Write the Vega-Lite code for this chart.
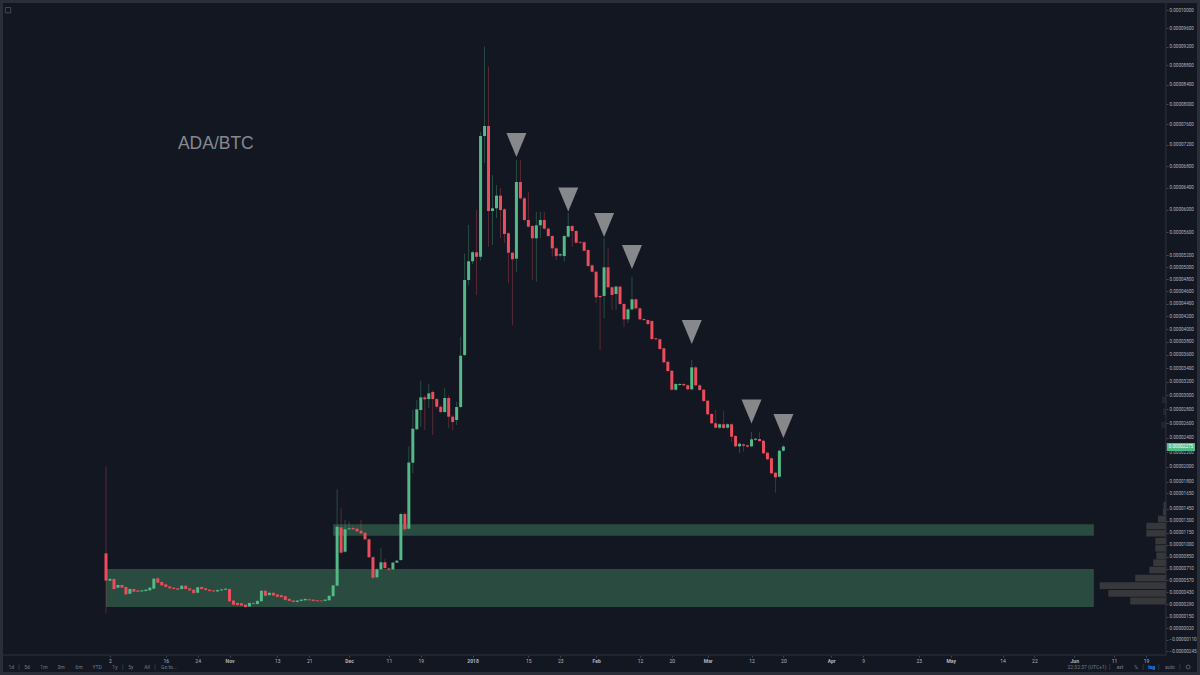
{
"$schema":"https://vega.github.io/schema/vega-lite/v6.json",
"width":1194,"height":669,"padding":3,"autosize":{"type":"none"},
"background":"#2a2e39",
"config":{"view":{"fill":"#131722","stroke":null},"font":"Roboto","axis":{"grid":false,"title":null,"domain":false,"labelOverlap":false}},
"datasets":{
"candles":[
{"date":"2017-10-01","open":893,"high":2002,"low":193,"close":566},
{"date":"2017-10-02","open":566,"high":600,"low":558,"close":585},
{"date":"2017-10-03","open":585,"high":595,"low":460,"close":467},
{"date":"2017-10-04","open":483,"high":522,"low":475,"close":514},
{"date":"2017-10-05","open":514,"high":522,"low":475,"close":483},
{"date":"2017-10-06","open":491,"high":498,"low":395,"close":404},
{"date":"2017-10-07","open":412,"high":474,"low":404,"close":467},
{"date":"2017-10-08","open":467,"high":474,"low":428,"close":435},
{"date":"2017-10-09","open":451,"high":458,"low":428,"close":435},
{"date":"2017-10-10","open":439,"high":458,"low":432,"close":451},
{"date":"2017-10-11","open":443,"high":466,"low":436,"close":459},
{"date":"2017-10-12","open":451,"high":490,"low":444,"close":483},
{"date":"2017-10-13","open":471,"high":596,"low":464,"close":589},
{"date":"2017-10-14","open":593,"high":610,"low":535,"close":542},
{"date":"2017-10-15","open":550,"high":557,"low":503,"close":510},
{"date":"2017-10-16","open":522,"high":529,"low":484,"close":491},
{"date":"2017-10-17","open":498,"high":505,"low":468,"close":475},
{"date":"2017-10-18","open":483,"high":490,"low":460,"close":467},
{"date":"2017-10-19","open":475,"high":482,"low":452,"close":459},
{"date":"2017-10-20","open":467,"high":513,"low":460,"close":506},
{"date":"2017-10-21","open":506,"high":513,"low":460,"close":467},
{"date":"2017-10-22","open":475,"high":482,"low":444,"close":451},
{"date":"2017-10-23","open":459,"high":466,"low":412,"close":419},
{"date":"2017-10-24","open":423,"high":494,"low":416,"close":487},
{"date":"2017-10-25","open":491,"high":498,"low":460,"close":467},
{"date":"2017-10-26","open":475,"high":482,"low":448,"close":455},
{"date":"2017-10-27","open":459,"high":466,"low":436,"close":443},
{"date":"2017-10-28","open":451,"high":458,"low":432,"close":439},
{"date":"2017-10-29","open":439,"high":462,"low":432,"close":455},
{"date":"2017-10-30","open":451,"high":470,"low":444,"close":463},
{"date":"2017-10-31","open":459,"high":478,"low":452,"close":471},
{"date":"2017-11-01","open":467,"high":474,"low":318,"close":325},
{"date":"2017-11-02","open":333,"high":340,"low":278,"close":285},
{"date":"2017-11-03","open":305,"high":312,"low":274,"close":281},
{"date":"2017-11-04","open":301,"high":308,"low":270,"close":277},
{"date":"2017-11-05","open":285,"high":292,"low":251,"close":258},
{"date":"2017-11-06","open":265,"high":312,"low":258,"close":305},
{"date":"2017-11-07","open":297,"high":312,"low":290,"close":305},
{"date":"2017-11-08","open":293,"high":336,"low":286,"close":329},
{"date":"2017-11-09","open":325,"high":454,"low":318,"close":447},
{"date":"2017-11-10","open":447,"high":454,"low":381,"close":388},
{"date":"2017-11-11","open":396,"high":430,"low":389,"close":423},
{"date":"2017-11-12","open":423,"high":430,"low":385,"close":392},
{"date":"2017-11-13","open":404,"high":411,"low":369,"close":376},
{"date":"2017-11-14","open":396,"high":403,"low":365,"close":372},
{"date":"2017-11-15","open":384,"high":391,"low":333,"close":340},
{"date":"2017-11-16","open":352,"high":359,"low":322,"close":329},
{"date":"2017-11-17","open":333,"high":340,"low":310,"close":317},
{"date":"2017-11-18","open":317,"high":340,"low":310,"close":333},
{"date":"2017-11-19","open":329,"high":351,"low":322,"close":344},
{"date":"2017-11-20","open":336,"high":359,"low":329,"close":352},
{"date":"2017-11-21","open":348,"high":355,"low":329,"close":336},
{"date":"2017-11-22","open":344,"high":351,"low":322,"close":329},
{"date":"2017-11-23","open":336,"high":343,"low":318,"close":325},
{"date":"2017-11-24","open":333,"high":340,"low":318,"close":325},
{"date":"2017-11-25","open":329,"high":351,"low":322,"close":344},
{"date":"2017-11-26","open":336,"high":395,"low":329,"close":388},
{"date":"2017-11-27","open":384,"high":517,"low":377,"close":510},
{"date":"2017-11-28","open":506,"high":1702,"low":500,"close":1222},
{"date":"2017-11-29","open":1214,"high":1456,"low":880,"close":901},
{"date":"2017-11-30","open":913,"high":1307,"low":900,"close":1190},
{"date":"2017-12-01","open":1190,"high":1286,"low":1180,"close":1202},
{"date":"2017-12-02","open":1206,"high":1240,"low":1180,"close":1190},
{"date":"2017-12-03","open":1198,"high":1215,"low":1155,"close":1165},
{"date":"2017-12-04","open":1172,"high":1307,"low":1130,"close":1140},
{"date":"2017-12-05","open":1147,"high":1155,"low":1055,"close":1065},
{"date":"2017-12-06","open":1065,"high":1075,"low":835,"close":846},
{"date":"2017-12-07","open":846,"high":860,"low":585,"close":600},
{"date":"2017-12-08","open":605,"high":715,"low":590,"close":700},
{"date":"2017-12-09","open":700,"high":955,"low":690,"close":785},
{"date":"2017-12-10","open":785,"high":830,"low":705,"close":715},
{"date":"2017-12-11","open":711,"high":725,"low":680,"close":696},
{"date":"2017-12-12","open":700,"high":790,"low":690,"close":781},
{"date":"2017-12-13","open":781,"high":815,"low":775,"close":804},
{"date":"2017-12-14","open":812,"high":1400,"low":800,"close":1383},
{"date":"2017-12-15","open":1383,"high":1410,"low":1175,"close":1190},
{"date":"2017-12-16","open":1198,"high":2274,"low":1185,"close":2058},
{"date":"2017-12-17","open":2055,"high":2787,"low":1917,"close":2523},
{"date":"2017-12-18","open":2515,"high":2931,"low":2495,"close":2797},
{"date":"2017-12-19","open":2787,"high":3214,"low":2551,"close":2970},
{"date":"2017-12-20","open":2970,"high":3000,"low":2505,"close":2941},
{"date":"2017-12-21","open":2945,"high":3165,"low":2816,"close":3028},
{"date":"2017-12-22","open":3048,"high":3070,"low":2435,"close":2945},
{"date":"2017-12-23","open":2945,"high":2960,"low":2800,"close":2834},
{"date":"2017-12-24","open":2834,"high":2860,"low":2740,"close":2759},
{"date":"2017-12-25","open":2759,"high":3106,"low":2740,"close":2960},
{"date":"2017-12-26","open":2960,"high":3000,"low":2533,"close":2692},
{"date":"2017-12-27","open":2692,"high":2720,"low":2505,"close":2617},
{"date":"2017-12-28","open":2645,"high":2906,"low":2575,"close":2830},
{"date":"2017-12-29","open":2830,"high":3880,"low":2810,"close":3588},
{"date":"2017-12-30","open":3598,"high":5230,"low":3580,"close":4789},
{"date":"2017-12-31","open":4789,"high":5727,"low":4700,"close":5102},
{"date":"2018-01-01","open":5102,"high":5280,"low":5050,"close":5255},
{"date":"2018-01-02","open":5255,"high":5993,"low":4543,"close":5178},
{"date":"2018-01-03","open":5178,"high":7450,"low":5112,"close":7373},
{"date":"2018-01-04","open":7373,"high":9200,"low":6855,"close":7569},
{"date":"2018-01-05","open":7569,"high":8775,"low":5350,"close":5975},
{"date":"2018-01-06","open":5975,"high":6630,"low":5380,"close":6024},
{"date":"2018-01-07","open":6024,"high":6446,"low":5850,"close":6252},
{"date":"2018-01-08","open":6252,"high":6390,"low":5500,"close":5993},
{"date":"2018-01-09","open":6005,"high":6030,"low":5414,"close":5570},
{"date":"2018-01-10","open":5582,"high":5600,"low":4740,"close":5247},
{"date":"2018-01-11","open":5247,"high":5265,"low":4060,"close":5136},
{"date":"2018-01-12","open":5146,"high":6912,"low":4925,"close":6502},
{"date":"2018-01-13","open":6502,"high":6912,"low":6180,"close":6204},
{"date":"2018-01-14","open":6204,"high":6225,"low":5790,"close":5815},
{"date":"2018-01-15","open":5815,"high":6323,"low":5680,"close":5697},
{"date":"2018-01-16","open":5710,"high":5730,"low":4789,"close":5495},
{"date":"2018-01-17","open":5495,"high":5962,"low":4761,"close":5722},
{"date":"2018-01-18","open":5722,"high":5962,"low":5500,"close":5815},
{"date":"2018-01-19","open":5815,"high":5962,"low":5645,"close":5663},
{"date":"2018-01-20","open":5663,"high":5680,"low":5515,"close":5535},
{"date":"2018-01-21","open":5535,"high":5550,"low":5178,"close":5322},
{"date":"2018-01-22","open":5322,"high":5340,"low":5124,"close":5190},
{"date":"2018-01-23","open":5200,"high":5240,"low":5180,"close":5222},
{"date":"2018-01-24","open":5190,"high":5555,"low":5095,"close":5535},
{"date":"2018-01-25","open":5523,"high":5940,"low":5505,"close":5710},
{"date":"2018-01-26","open":5710,"high":5730,"low":5350,"close":5622},
{"date":"2018-01-27","open":5622,"high":5640,"low":5400,"close":5420},
{"date":"2018-01-28","open":5432,"high":5445,"low":5405,"close":5420},
{"date":"2018-01-29","open":5427,"high":5445,"low":5265,"close":5281},
{"date":"2018-01-30","open":5293,"high":5310,"low":5005,"close":5022},
{"date":"2018-01-31","open":5034,"high":5050,"low":4910,"close":4926},
{"date":"2018-02-01","open":4926,"high":4945,"low":4413,"close":4506},
{"date":"2018-02-02","open":4527,"high":4545,"low":3675,"close":4506},
{"date":"2018-02-03","open":4527,"high":5500,"low":4168,"close":5000},
{"date":"2018-02-04","open":5000,"high":5322,"low":4650,"close":4669},
{"date":"2018-02-05","open":4669,"high":4685,"low":4300,"close":4543},
{"date":"2018-02-06","open":4560,"high":4700,"low":4300,"close":4680},
{"date":"2018-02-07","open":4680,"high":4695,"low":4380,"close":4397},
{"date":"2018-02-08","open":4397,"high":4410,"low":4030,"close":4152},
{"date":"2018-02-09","open":4152,"high":4330,"low":4094,"close":4311},
{"date":"2018-02-10","open":4311,"high":4843,"low":4295,"close":4473},
{"date":"2018-02-11","open":4473,"high":4490,"low":4310,"close":4327},
{"date":"2018-02-12","open":4327,"high":4345,"low":4135,"close":4152},
{"date":"2018-02-13","open":4157,"high":4170,"low":4125,"close":4141},
{"date":"2018-02-14","open":4141,"high":4155,"low":4060,"close":4078},
{"date":"2018-02-15","open":4125,"high":4140,"low":3825,"close":3844},
{"date":"2018-02-16","open":3855,"high":3870,"low":3825,"close":3840},
{"date":"2018-02-17","open":3840,"high":3855,"low":3675,"close":3690},
{"date":"2018-02-18","open":3701,"high":3715,"low":3470,"close":3488},
{"date":"2018-02-19","open":3497,"high":3510,"low":3340,"close":3357},
{"date":"2018-02-20","open":3361,"high":3375,"low":3065,"close":3081},
{"date":"2018-02-21","open":3081,"high":3180,"low":3065,"close":3165},
{"date":"2018-02-22","open":3150,"high":3180,"low":3135,"close":3165},
{"date":"2018-02-23","open":3165,"high":3180,"low":3130,"close":3146},
{"date":"2018-02-24","open":3146,"high":3160,"low":3070,"close":3087},
{"date":"2018-02-25","open":3087,"high":3523,"low":3070,"close":3412},
{"date":"2018-02-26","open":3412,"high":3430,"low":3130,"close":3146},
{"date":"2018-02-27","open":3146,"high":3160,"low":3060,"close":3077},
{"date":"2018-02-28","open":3081,"high":3095,"low":2900,"close":2917},
{"date":"2018-03-01","open":2921,"high":2935,"low":2710,"close":2726},
{"date":"2018-03-02","open":2730,"high":2745,"low":2585,"close":2599},
{"date":"2018-03-03","open":2599,"high":2787,"low":2525,"close":2537},
{"date":"2018-03-04","open":2537,"high":2600,"low":2520,"close":2585},
{"date":"2018-03-05","open":2585,"high":2777,"low":2520,"close":2533},
{"date":"2018-03-06","open":2537,"high":2600,"low":2520,"close":2585},
{"date":"2018-03-07","open":2585,"high":2600,"low":2337,"close":2411},
{"date":"2018-03-08","open":2421,"high":2435,"low":2265,"close":2278},
{"date":"2018-03-09","open":2278,"high":2330,"low":2187,"close":2314},
{"date":"2018-03-10","open":2305,"high":2320,"low":2205,"close":2286},
{"date":"2018-03-11","open":2292,"high":2305,"low":2260,"close":2274},
{"date":"2018-03-12","open":2278,"high":2481,"low":2265,"close":2375},
{"date":"2018-03-13","open":2369,"high":2395,"low":2355,"close":2383},
{"date":"2018-03-14","open":2379,"high":2472,"low":2340,"close":2351},
{"date":"2018-03-15","open":2355,"high":2370,"low":2170,"close":2183},
{"date":"2018-03-16","open":2191,"high":2205,"low":2090,"close":2101},
{"date":"2018-03-17","open":2115,"high":2130,"low":1900,"close":1913},
{"date":"2018-03-18","open":1921,"high":1935,"low":1658,"close":1860},
{"date":"2018-03-19","open":1868,"high":2235,"low":1855,"close":2218},
{"date":"2018-03-20","open":2218,"high":2295,"low":2205,"close":2275}
],
"zones":[
{"start":"2017-11-27","end":"2018-06-05T22:00:00Z","top":1253,"bottom":1110},
{"start":"2017-10-01","end":"2018-06-05T22:00:00Z","top":704,"bottom":258}
],
"volume":[
{"start":"2018-06-23T18:00:00Z","end":"2018-06-24T02:00:00Z","top":3173,"bottom":3077},
{"start":"2018-06-23T00:00:00Z","end":"2018-06-24T02:00:00Z","top":2979,"bottom":2883},
{"start":"2018-06-23T06:00:00Z","end":"2018-06-24T02:00:00Z","top":2810,"bottom":2716},
{"start":"2018-06-22T20:00:00Z","end":"2018-06-24T02:00:00Z","top":2620,"bottom":2530},
{"start":"2018-06-23T10:00:00Z","end":"2018-06-24T02:00:00Z","top":1540,"bottom":1456},
{"start":"2018-06-23T06:00:00Z","end":"2018-06-24T02:00:00Z","top":1454,"bottom":1370},
{"start":"2018-06-22T00:00:00Z","end":"2018-06-24T02:00:00Z","top":1361,"bottom":1277},
{"start":"2018-06-19T02:00:00Z","end":"2018-06-24T02:00:00Z","top":1272,"bottom":1190},
{"start":"2018-06-19T02:00:00Z","end":"2018-06-24T02:00:00Z","top":1180,"bottom":1100},
{"start":"2018-06-21T08:00:00Z","end":"2018-06-24T02:00:00Z","top":1084,"bottom":1004},
{"start":"2018-06-21T08:00:00Z","end":"2018-06-24T02:00:00Z","top":994,"bottom":914},
{"start":"2018-06-21T14:00:00Z","end":"2018-06-24T02:00:00Z","top":904,"bottom":824},
{"start":"2018-06-20T20:00:00Z","end":"2018-06-24T02:00:00Z","top":820,"bottom":740},
{"start":"2018-06-19T20:00:00Z","end":"2018-06-24T02:00:00Z","top":732,"bottom":652},
{"start":"2018-06-16T07:00:00Z","end":"2018-06-24T02:00:00Z","top":636,"bottom":556},
{"start":"2018-06-07T09:00:00Z","end":"2018-06-24T02:00:00Z","top":546,"bottom":466},
{"start":"2018-06-09T13:00:00Z","end":"2018-06-24T02:00:00Z","top":457,"bottom":377},
{"start":"2018-06-15T01:00:00Z","end":"2018-06-24T02:00:00Z","top":367,"bottom":287}
],
"triangles":[
{"date":"2018-01-12","price":7199},
{"date":"2018-01-25","price":6182},
{"date":"2018-02-03","price":5727},
{"date":"2018-02-10","price":5174},
{"date":"2018-02-25","price":3953},
{"date":"2018-03-12","price":2766},
{"date":"2018-03-20","price":2561}
],
"toolbar":[
{"date":"2017-09-07T06:00:00Z","price":-425,"label":"1d"},
{"date":"2017-09-11T04:00:00Z","price":-425,"label":"5d"},
{"date":"2017-09-15T10:00:00Z","price":-425,"label":"1m"},
{"date":"2017-09-19T17:00:00Z","price":-425,"label":"3m"},
{"date":"2017-09-24T05:00:00Z","price":-425,"label":"6m"},
{"date":"2017-09-28T18:00:00Z","price":-425,"label":"YTD"},
{"date":"2017-10-03T06:00:00Z","price":-425,"label":"1y"},
{"date":"2017-10-07T06:00:00Z","price":-425,"label":"5y"},
{"date":"2017-10-11T07:00:00Z","price":-425,"label":"All"},
{"date":"2017-10-16T19:00:00Z","price":-425,"label":"Go to..."},
{"date":"2018-06-04T05:00:00Z","price":-425,"label":"22:32:37 (UTC+1)"},
{"date":"2018-06-12T12:00:00Z","price":-425,"label":"ext"},
{"date":"2018-06-16T12:00:00Z","price":-425,"label":"%"},
{"date":"2018-06-25T00:00:00Z","price":-425,"label":"auto"}
],
"dividers":[
{"date":"2017-09-09T04:00:00Z","top":-390,"bottom":-460},
{"date":"2017-10-05T05:00:00Z","top":-390,"bottom":-460},
{"date":"2017-10-13T07:00:00Z","top":-390,"bottom":-460},
{"date":"2018-06-09T22:00:00Z","top":-390,"bottom":-460},
{"date":"2018-06-18T07:00:00Z","top":-390,"bottom":-460},
{"date":"2018-06-22T05:00:00Z","top":-390,"bottom":-460},
{"date":"2018-06-27T12:00:00Z","top":-390,"bottom":-460},
{"date":"2018-06-24T00:00:00Z","top":10160,"bottom":-286}
]
},
"layer":[
{"data":{"name":"zones"},"mark":{"type":"rect","color":"#2a4b3f"},
"encoding":{
"x":{"field":"start","type":"temporal","scale":{"type":"utc","nice":false,"padding":0,"domain":["2017-09-05T03:36:00Z","2018-07-01T19:12:00Z"]},
"axis":{"orient":"bottom","offset":-17,"tickCount":100,"values":["2017-10-02","2017-10-16","2017-10-24","2017-11-01","2017-11-13","2017-11-21","2017-12-01","2017-12-11","2017-12-19","2018-01-01","2018-01-15","2018-01-23","2018-02-01","2018-02-12","2018-02-20","2018-03-01","2018-03-12","2018-03-20","2018-04-01","2018-04-09","2018-04-23","2018-05-01","2018-05-14","2018-05-22","2018-06-01","2018-06-11","2018-06-19"],
"labelExpr":"utcdate(datum.value)==1?(utcmonth(datum.value)==0?'2018':utcFormat(datum.value,'%b')):utcdate(datum.value)",
"labelFontSize":5,"labelColor":"#b2b5be","labelFontWeight":{"condition":{"test":"utcdate(datum.value)==1","value":"bold"},"value":"normal"},"labelPadding":1,"labelOverlap":false,"labelBound":false,"labelFlush":false,"tickSize":2,"tickColor":"#434651"}},
"x2":{"field":"end"},
"y":{"field":"top","type":"quantitative","scale":{"type":"symlog","constant":10000,"domain":[-483,10160],"nice":false,"zero":false},
"axis":{"orient":"right","offset":-31,"tickCount":100,"values":[10000,9600,9200,8800,8400,8000,7600,7200,6800,6400,6000,5600,5200,5000,4800,4600,4400,4200,4000,3800,3600,3400,3200,3000,2800,2600,2400,2200,2000,1800,1650,1450,1300,1150,1000,850,710,570,430,290,150,20,-110,-245],
"labelExpr":"format(datum.value/100000000,'.8f')","labelFontSize":4.6,"labelColor":"#b2b5be","labelPadding":1,"labelOverlap":false,"labelBound":false,"tickSize":2,"tickColor":"#434651"}},
"y2":{"field":"bottom"}}},
{"data":{"name":"volume"},"mark":{"type":"rect","color":"#37383c"},
"encoding":{"x":{"field":"start","type":"temporal"},"x2":{"field":"end"},
"y":{"field":"top","type":"quantitative"},"y2":{"field":"bottom"},
"opacity":{"condition":{"test":"datum.top>2000","value":0.45},"value":1}}},
{"data":{"name":"candles"},"mark":{"type":"rule","strokeWidth":1,"opacity":0.33},
"encoding":{"x":{"field":"date","type":"temporal"},
"y":{"field":"high","type":"quantitative"},"y2":{"field":"low"},
"color":{"condition":{"test":"datum.close>=datum.open","value":"#53b987"},"value":"#eb4d5c"}}},
{"data":{"name":"candles"},"mark":{"type":"bar","width":3},
"encoding":{"x":{"field":"date","type":"temporal"},
"y":{"field":"open","type":"quantitative"},"y2":{"field":"close"},
"color":{"condition":{"test":"datum.close>=datum.open","value":"#53b987"},"value":"#eb4d5c"}}},
{"data":{"name":"triangles"},"mark":{"type":"point","shape":"M-1,-1.2L1,-1.2L0,1.2Z","filled":true,"size":400,"color":"#87888c","opacity":1},
"encoding":{"x":{"field":"date","type":"temporal"},"y":{"field":"price","type":"quantitative"}}},
{"data":{"values":[{"date":"2017-10-19T01:00:00Z","price":7122,"label":"ADA/BTC"}]},"mark":{"type":"text","align":"left","baseline":"alphabetic","font":"Liberation Sans","fontSize":17.5,"color":"#858890"},
"encoding":{"x":{"field":"date","type":"temporal"},"y":{"field":"price","type":"quantitative"},"text":{"field":"label"}}},
{"data":{"name":"toolbar"},"mark":{"type":"text","fontSize":5,"color":"#787b86"},
"encoding":{"x":{"field":"date","type":"temporal"},"y":{"field":"price","type":"quantitative"},"text":{"field":"label"}}},
{"data":{"values":[{"date":"2018-06-20T10:00:00Z","price":-425,"label":"log"}]},"mark":{"type":"text","fontSize":5,"fontWeight":"bold","color":"#2196f3"},
"encoding":{"x":{"field":"date","type":"temporal"},"y":{"field":"price","type":"quantitative"},"text":{"field":"label"}}},
{"data":{"name":"dividers"},"mark":{"type":"rule","color":"#2f333f"},
"encoding":{"x":{"field":"date","type":"temporal"},"y":{"field":"top","type":"quantitative"},"y2":{"field":"bottom"}}},
{"data":{"values":[{"start":"2017-09-05T04:00:00Z","end":"2018-06-24T00:00:00Z","price":-286}]},"mark":{"type":"rule","color":"#2f333f"},
"encoding":{"x":{"field":"start","type":"temporal"},"x2":{"field":"end"},"y":{"field":"price","type":"quantitative"}}},
{"data":{"values":[{"date":"2017-09-06T10:00:00Z","price":10000}]},"mark":{"type":"point","shape":"square","size":28,"color":"#787b86","strokeWidth":0.7},
"encoding":{"x":{"field":"date","type":"temporal"},"y":{"field":"price","type":"quantitative"}}},
{"data":{"values":[{"date":"2018-06-29T14:00:00Z","price":-425}]},"mark":{"type":"point","shape":"circle","size":16,"color":"#787b86","strokeWidth":1},
"encoding":{"x":{"field":"date","type":"temporal"},"y":{"field":"price","type":"quantitative"}}},
{"data":{"values":[{"start":"2018-06-24T05:00:00Z","end":"2018-07-01T07:00:00Z","top":2324,"bottom":2214}]},"mark":{"type":"rect","color":"#53b987"},
"encoding":{"x":{"field":"start","type":"temporal"},"x2":{"field":"end"},"y":{"field":"top","type":"quantitative"},"y2":{"field":"bottom"}}},
{"data":{"values":[{"date":"2018-06-24T17:00:00Z","price":2275,"label":"0.00002275"}]},"mark":{"type":"text","align":"left","fontSize":4.6,"color":"#ffffff"},
"encoding":{"x":{"field":"date","type":"temporal"},"y":{"field":"price","type":"quantitative"},"text":{"field":"label"}}}
]
}
